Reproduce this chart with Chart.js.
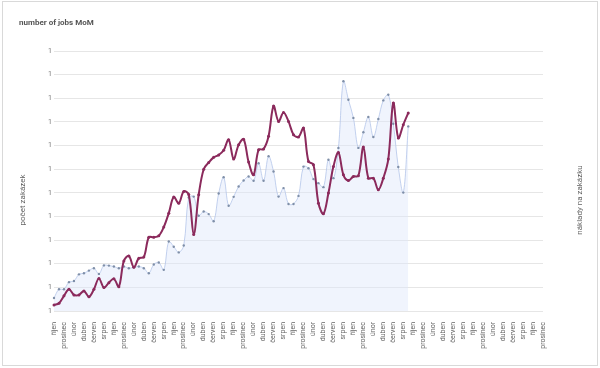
<!DOCTYPE html>
<html>
<head>
<meta charset="utf-8">
<script src="https://cdn.jsdelivr.net/npm/chart.js@4.4.1/dist/chart.umd.min.js"></script>
<style>
  html, body { margin: 0; padding: 0; background: #fff; }
  #wrap { position: relative; width: 600px; height: 368px; }
  #frame { position: absolute; left: 2px; top: 1px; width: 594px; height: 363px; border: 1px solid #d9d9d9; }
  canvas { position: absolute; left: 0; top: 0; }
</style>
</head>
<body>
<div id="wrap">
  <div id="frame"></div>
  <canvas id="jobsChart" width="600" height="368"></canvas>
</div>
<script>
// month names (cs), the axis starts in October
const monthNames = ['leden', 'únor', 'březen', 'duben', 'květen', 'červen', 'červenec', 'srpen', 'září', 'říjen', 'listopad', 'prosinec'];
const startMonth = 9;
const monthCount = 99;
const categories = [];
for (let i = 0; i < monthCount; i++) categories.push(monthNames[(startMonth + i) % 12]);

// počet zakázek (purple line)
const jobCount = [
  0.25, 0.33, 0.64, 0.92, 0.68, 0.68, 0.85, 0.6, 0.92, 1.38,
  0.99, 1.2, 1.36, 1.03, 2.12, 2.33, 1.85, 2.23, 2.28, 3.12,
  3.12, 3.18, 3.55, 4.14, 4.82, 4.56, 5.06, 4.93, 3.24, 4.92,
  6.0, 6.28, 6.5, 6.6, 6.8, 7.25, 6.43, 7.03, 7.27, 6.3,
  5.76, 6.82, 6.85, 7.39, 8.67, 8.02, 8.4, 8.02, 7.46, 7.36,
  7.74, 6.33, 6.19, 4.56, 4.11, 4.99, 6.11, 6.71, 5.76, 5.52,
  5.69, 5.72, 6.94, 5.62, 5.62, 5.13, 5.62, 6.43, 8.8, 7.32,
  7.88, 8.38
];

// náklady na zakázku (light blue area)
const costPerJob = [
  0.55, 0.92, 0.92, 1.22, 1.27, 1.55, 1.6, 1.71, 1.81, 1.57,
  1.93, 1.92, 1.88, 1.81, 1.88, 1.81, 1.85, 1.88, 1.81, 1.6,
  1.97, 2.05, 1.74, 2.94, 2.72, 2.48, 2.77, 4.8, 4.84, 4.03,
  4.21, 4.1, 3.8, 4.97, 5.66, 4.45, 4.83, 5.27, 5.52, 5.69,
  5.51, 6.25, 5.51, 6.55, 5.9, 4.84, 5.2, 4.53, 4.53, 4.87,
  6.11, 6.04, 5.58, 5.41, 5.24, 6.4, 5.62, 6.9, 9.72, 8.94,
  8.17, 6.9, 7.56, 8.21, 7.36, 8.12, 8.91, 9.15, 7.92, 6.09,
  5.01, 7.81
];

// the y ticks in the original all read "1"
const yTickLabel = '1';

Chart.defaults.font.family = 'Roboto, Arial, sans-serif';

// both axis titles read bottom-to-top and sit at the middle of the canvas height
const sideTitles = {
  id: 'sideTitles',
  afterDraw(chart) {
    const c = chart.ctx;
    c.save();
    c.font = '8px Roboto, Arial, sans-serif';
    c.fillStyle = '#666';
    c.textAlign = 'center';
    c.textBaseline = 'middle';
    [['počet zakázek', 23], ['náklady na zakázku', 580]].forEach(([text, x]) => {
      c.save();
      c.translate(x, 200);
      c.rotate(-Math.PI / 2);
      c.fillText(text, 0, 0);
      c.restore();
    });
    c.restore();
  }
};

const ctx = document.getElementById('jobsChart').getContext('2d');
new Chart(ctx, {
  type: 'line',
  data: {
    labels: categories,
    datasets: [{
      label: 'počet zakázek',
      data: jobCount,
      yAxisID: 'y',
      borderColor: '#8b2a5c',
      backgroundColor: '#8b2a5c',
      borderWidth: 2,
      pointRadius: 1.5,
      pointBorderWidth: 0,
      tension: 0.35,
      fill: false,
      order: 0
    }, {
      label: 'náklady na zakázku',
      data: costPerJob,
      yAxisID: 'y1',
      borderColor: 'rgba(180,198,234,0.8)',
      backgroundColor: 'rgba(222,231,250,0.45)',
      pointBackgroundColor: '#7f8fa8',
      borderWidth: 1,
      pointRadius: 1.2,
      pointBorderWidth: 0,
      tension: 0.35,
      fill: 'origin',
      order: 1
    }]
  },
  options: {
    responsive: false,
    animation: false,
    devicePixelRatio: 1,
    layout: { padding: { left: 19, right: 15, top: 18, bottom: 10 } },
    plugins: {
      legend: { display: false },
      tooltip: { enabled: false },
      title: {
        display: true,
        text: 'number of jobs MoM',
        align: 'start',
        color: '#555',
        font: { size: 8, weight: 'bold' },
        padding: { top: 0, bottom: 23.4 }
      }
    },
    scales: {
      x: {
        grid: { display: false },
        border: { display: false },
        ticks: {
          autoSkip: false,
          maxRotation: 90,
          minRotation: 90,
          padding: 3,
          color: '#666',
          font: { size: 7 },
          callback: (v, i) => (i % 2 === 0 ? categories[i] : null)
        },
        afterFit: s => { s.height = 47; }
      },
      y: {
        position: 'left',
        min: 0,
        max: 11,
        grid: { color: '#e6e6e6', drawTicks: false },
        border: { display: false },
        ticks: {
          stepSize: 1,
          padding: 2,
          color: '#777',
          font: { size: 7 },
          callback: () => yTickLabel
        },
        afterFit: s => { s.width = 35; }
      },
      y1: {
        position: 'right',
        min: 0,
        max: 11,
        grid: { display: false },
        border: { display: false },
        ticks: { display: false },
        afterFit: s => { s.width = 42; }
      }
    }
  },
  plugins: [sideTitles]
});
</script>
</body>
</html>
